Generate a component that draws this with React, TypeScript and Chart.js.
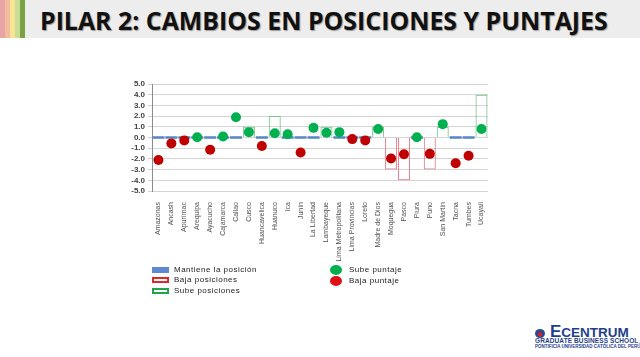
import React, { useEffect, useRef } from "react";
import { Chart, registerables } from "chart.js";
Chart.register(...registerables);

const categories = [
  "Amazonas", "Ancash", "Apurímac", "Arequipa", "Ayacucho", "Cajamarca", "Callao", "Cusco",
  "Huancavelica", "Huánuco", "Ica", "Junín", "La Libertad", "Lambayeque", "Lima Metropolitana",
  "Lima Provincias", "Loreto", "Madre de Dios", "Moquegua", "Pasco", "Piura", "Puno",
  "San Martín", "Tacna", "Tumbes", "Ucayali",
];
const cambioPosiciones = [0, 0, 0, 0, 0, 0, 0, 1, 0, 2, 0, 0, 0, 1, 0, 0, 0, 1, -3, -4, 0, -3, 1, 0, 0, 4];
const cambioPuntaje = [
  -2.1, -0.55, -0.27, 0.02, -1.15, 0.1, 1.9, 0.5, -0.8, 0.4, 0.3, -1.4, 0.9, 0.45, 0.5,
  -0.15, -0.27, 0.8, -1.97, -1.57, 0.02, -1.53, 1.25, -2.4, -1.7, 0.8,
];
const yMin = -5;
const yMax = 5;
const yStep = 1;

const legendBars = ["Mantiene la posición", "Baja posiciones", "Sube posiciones"];
const legendDots = ["Sube puntaje", "Baja puntaje"];

const BLUE = "#5585c4";
const RED_BOX = "#e8808c";
const GREEN_BOX = "#78c488";
const GREEN_DOT = "#00b050";
const RED_DOT = "#c00000";

function ChartCanvas() {
  const ref = useRef<HTMLCanvasElement | null>(null);
  useEffect(() => {
    if (!ref.current) return;
    const chart = new Chart(ref.current, {
      type: "bar",
      data: {
        labels: categories,
        datasets: [
          {
            type: "line",
            label: legendDots[0],
            data: cambioPuntaje.map((v) => (v > 0 ? v : null)),
            showLine: false,
            pointRadius: 5,
            pointBackgroundColor: GREEN_DOT,
            pointBorderColor: GREEN_DOT,
            pointBorderWidth: 0,
            order: 0,
          } as any,
          {
            type: "line",
            label: legendDots[1],
            data: cambioPuntaje.map((v) => (v < 0 ? v : null)),
            showLine: false,
            pointRadius: 5,
            pointBackgroundColor: RED_DOT,
            pointBorderColor: RED_DOT,
            pointBorderWidth: 0,
            order: 0,
          } as any,
          {
            label: legendBars[0],
            data: cambioPosiciones.map((v) => (v === 0 ? 0 : null)),
            backgroundColor: BLUE,
            minBarLength: 2.5,
            grouped: false,
            barPercentage: 0.93,
            categoryPercentage: 1,
            order: 2,
          } as any,
          {
            label: legendBars[1],
            data: cambioPosiciones.map((v) => (v < 0 ? v : null)),
            backgroundColor: "rgba(255,255,255,0)",
            borderColor: RED_BOX,
            borderWidth: 1,
            borderSkipped: "start",
            grouped: false,
            barPercentage: 0.93,
            categoryPercentage: 1,
            order: 2,
          } as any,
          {
            label: legendBars[2],
            data: cambioPosiciones.map((v) => (v > 0 ? v : null)),
            backgroundColor: "rgba(255,255,255,0)",
            borderColor: GREEN_BOX,
            borderWidth: 1,
            borderSkipped: "start",
            grouped: false,
            barPercentage: 0.93,
            categoryPercentage: 1,
            order: 2,
          } as any,
        ],
      },
      options: {
        animation: false,
        responsive: false,
        devicePixelRatio: 1,
        layout: { padding: { top: 14, right: 0, left: 0, bottom: 0 } },
        plugins: { legend: { display: false }, tooltip: { enabled: false } },
        scales: {
          x: {
            grid: { display: false },
            border: { display: false },
            ticks: {
              autoSkip: false,
              minRotation: 90,
              maxRotation: 90,
              padding: 3,
              color: "#505050",
              font: { family: "'Liberation Sans Narrow', 'Liberation Sans', sans-serif", size: 7 },
            },
            afterFit: (s: any) => {
              s.height = 79;
            },
          },
          y: {
            min: yMin,
            max: yMax,
            ticks: {
              stepSize: yStep,
              autoSkip: false,
              padding: 3,
              color: "#404040",
              font: { family: "'Liberation Sans', sans-serif", size: 8, weight: "bold" },
              callback: (v: any) => Number(v).toFixed(1),
            },
            grid: { color: "#d4d4d4", tickLength: 4, lineWidth: 1 },
            border: { color: "#8c8c8c", width: 1 },
            afterFit: (s: any) => {
              s.width = 52;
            },
          },
        },
      },
    });
    return () => chart.destroy();
  }, []);
  return (
    <canvas
      ref={ref}
      width={393}
      height={200}
      style={{ position: "absolute", left: 100, top: 70, width: 393, height: 200, display: "block" }}
    />
  );
}

const stripes = ["#e8a4a4", "#f4bc9c", "#f8e594", "#c9dc94", "#7aa244"];

export default function App() {
  const legendFont: React.CSSProperties = {
    fontFamily: "'Liberation Sans', Arial, sans-serif",
    fontSize: 8,
    color: "#222",
    letterSpacing: 0.5,
    position: "absolute",
    lineHeight: "10px",
    whiteSpace: "nowrap",
  };
  return (
    <div
      style={{
        position: "fixed",
        left: 0,
        top: 0,
        width: 640,
        height: 357,
        background: "#ffffff",
        overflow: "hidden",
      }}
    >
      <div style={{ position: "absolute", left: 0, top: 0, width: 640, height: 38, background: "#ededed" }} />
      {stripes.map((c, i) => (
        <div key={i} style={{ position: "absolute", left: i * 5, top: 0, width: 5, height: 38, background: c }} />
      ))}
      <div
        style={{
          position: "absolute",
          left: 40,
          top: 4,
          fontFamily: "'Open Sans', sans-serif",
          fontWeight: 700,
          fontSize: 24.9,
          lineHeight: "32px",
          color: "#111",
          textShadow: "1px 1px 1px rgba(0,0,0,0.35)",
          whiteSpace: "nowrap",
        }}
      >
        PILAR 2: CAMBIOS EN POSICIONES Y PUNTAJES
      </div>

      <ChartCanvas />

      {/* Legend */}
      <div style={{ position: "absolute", left: 152, top: 267, width: 17, height: 6, background: "#5b8ad0" }} />
      <div style={{ ...legendFont, left: 174, top: 265 }}>{legendBars[0]}</div>
      <div
        style={{ position: "absolute", left: 152, top: 277, width: 13, height: 2, border: "2px solid #e02828", background: "#fff" }}
      />
      <div style={{ ...legendFont, left: 174, top: 275 }}>{legendBars[1]}</div>
      <div
        style={{ position: "absolute", left: 152, top: 288, width: 13, height: 2, border: "2px solid #22a548", background: "#fff" }}
      />
      <div style={{ ...legendFont, left: 174, top: 286 }}>{legendBars[2]}</div>

      <div style={{ position: "absolute", left: 330, top: 265, width: 12, height: 10, borderRadius: "50%", background: GREEN_DOT }} />
      <div style={{ ...legendFont, left: 349, top: 265 }}>{legendDots[0]}</div>
      <div style={{ position: "absolute", left: 330, top: 276, width: 12, height: 10, borderRadius: "50%", background: "#e0101a" }} />
      <div style={{ ...legendFont, left: 349, top: 276 }}>{legendDots[1]}</div>

      {/* Logo */}
      <div
        style={{
          position: "absolute",
          left: 535,
          top: 329,
          width: 10,
          height: 9,
          borderRadius: "50%",
          background: "radial-gradient(circle at 50% 60%, #d02030 0 30%, #2b4a8a 32% 100%)",
        }}
      />
      <div
        style={{
          position: "absolute",
          left: 550,
          top: 324,
          fontFamily: "'Liberation Sans', Arial, sans-serif",
          fontWeight: 700,
          fontSize: 13.5,
          lineHeight: "16px",
          color: "#1f3f8a",
          whiteSpace: "nowrap",
        }}
      >
        <span style={{ fontSize: 17 }}>E</span>CENTRUM
      </div>
      <div
        style={{
          position: "absolute",
          left: 535,
          top: 338,
          fontFamily: "'Liberation Sans', Arial, sans-serif",
          fontWeight: 700,
          fontSize: 6.5,
          lineHeight: "6px",
          color: "#1f3f8a",
          whiteSpace: "nowrap",
          letterSpacing: 0.1,
        }}
      >
        GRADUATE BUSINESS SCHOOL
      </div>
      <div
        style={{
          position: "absolute",
          left: 535,
          top: 344,
          fontFamily: "'Liberation Sans Narrow', 'Liberation Sans', Arial, sans-serif",
          fontWeight: 700,
          fontSize: 4.5,
          lineHeight: "5px",
          color: "#1f3f8a",
          whiteSpace: "nowrap",
        }}
      >
        PONTIFICIA UNIVERSIDAD CATÓLICA DEL PERÚ
      </div>
    </div>
  );
}
